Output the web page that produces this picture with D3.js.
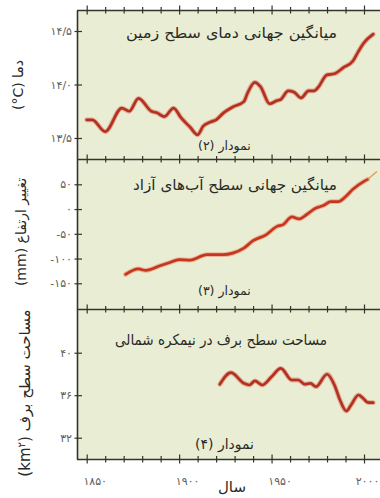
<!DOCTYPE html>
<html>
<head>
<meta charset="utf-8">
<script src="https://cdn.jsdelivr.net/npm/d3@7/dist/d3.min.js"></script>
<style>
  html, body { margin: 0; padding: 0; background: #fff; }
  svg { display: block; font-family: "DejaVu Sans", sans-serif; }
</style>
</head>
<body>
<svg id="chart" width="380" height="498"></svg>
<script>
// Global mean surface temperature (°C)
const tempYears  = [1850, 1853, 1860, 1869, 1873, 1878, 1885, 1888, 1892, 1897, 1901, 1906, 1910, 1913, 1917, 1920, 1924, 1929, 1935, 1937, 1941, 1944, 1949, 1953, 1955, 1959, 1962, 1966, 1970, 1973, 1975, 1980, 1984, 1989, 1994, 1997, 2000, 2005];
const tempValues = [13.67, 13.67, 13.56, 13.78, 13.75, 13.87, 13.75, 13.735, 13.70, 13.78, 13.69, 13.60, 13.53, 13.61, 13.65, 13.67, 13.735, 13.79, 13.84, 13.92, 14.02, 13.98, 13.82, 13.85, 13.86, 13.94, 13.93, 13.875, 13.94, 13.94, 13.97, 14.09, 14.10, 14.16, 14.22, 14.31, 14.39, 14.47];

// Global mean sea level change (mm)
const seaYears  = [1871, 1878, 1882, 1890, 1895, 1900, 1906, 1915, 1924, 1929, 1935, 1940, 1947, 1953, 1956, 1961, 1965, 1969, 1974, 1978, 1982, 1986, 1990, 1994, 2000, 2002];
const seaValues = [-132, -121, -124, -114, -108, -102, -103, -92, -92, -89, -79, -64, -52, -35, -32, -16, -20, -11, 2, 7, 15, 15, 25, 40, 56, 60];
// Recent satellite trend continuing the sea level record
const seaTrendYears  = [2002, 2007];
const seaTrendValues = [60, 76];

// Northern Hemisphere snow cover (million km²)
const snowYears  = [1922, 1928, 1935, 1938, 1941, 1945, 1950, 1955, 1961, 1964.5, 1968, 1971, 1974, 1980, 1984, 1987, 1990.5, 1993, 1997, 1999.5, 2002, 2005];
const snowValues = [37.03, 38.12, 37.12, 36.96, 37.34, 36.96, 37.74, 38.53, 37.43, 37.43, 37.03, 37.12, 36.80, 37.97, 36.96, 35.55, 34.51, 35.08, 36.02, 35.71, 35.33, 35.30];

// Tick values and their Persian labels
const yearTicks       = [1850, 1860, 1870, 1880, 1890, 1900, 1910, 1920, 1930, 1940, 1950, 1960, 1970, 1980, 1990, 2000];
const yearLabelValues = [1850, 1900, 1950, 2000];
const yearLabels      = ["۱۸۵۰", "۱۹۰۰", "۱۹۵۰", "۲۰۰۰"];
const tempTicks       = [13.5, 14.0, 14.5];
const tempTickLabels  = ["۱۳/۵", "۱۴/۰", "۱۴/۵"];
const seaTicks        = [-150, -100, -50, 0, 50];
const seaTickLabels   = ["-۱۵۰", "-۱۰۰", "-۵۰", "۰", "۵۰"];
const snowTicks       = [32, 36, 40];
const snowTickLabels  = ["۳۲", "۳۶", "۴۰"];

// Text
const panelTitles  = ["میانگین جهانی دمای سطح زمین", "میانگین جهانی سطح آب‌های آزاد", "مساحت سطح برف در نیمکره شمالی"];
const panelNumbers = ["(۲) نمودار", "(۳) نمودار", "(۴) نمودار"];
const yTitles      = ["(°C) دما", "(mm) تغییر ارتفاع", "مساحت سطح برف"];
const xTitle       = "سال";

const svg = d3.select("#chart");
const plotLeft = 77, plotRight = 380;
const bands = [[10.5, 159.5], [159.5, 309.5], [309.5, 459.5]];

const x = d3.scaleLinear().domain([1850, 2000]).range([86.7, 364]);
const yTemp = d3.scaleLinear().domain([13.5, 14.5]).range([138, 31]);
const ySea  = d3.scaleLinear().domain([-150, 50]).range([283.3, 184.3]);
const ySnow = d3.scaleLinear().domain([32, 40]).range([437.7, 352.7]);

const bg = "#e9edd3", frame = "#34342c", tickText = "#5e5e5a", titleText = "#2a2a26";

// panel background
svg.append("rect")
  .attr("x", plotLeft).attr("y", bands[0][0])
  .attr("width", plotRight - plotLeft).attr("height", bands[2][1] - bands[0][0])
  .attr("fill", bg);

// series lines
function drawSeries(years, values, y, core, halo) {
  const data = years.map((yr, i) => [yr, values[i]]);
  const line = d3.line().x(d => x(d[0])).y(d => y(d[1])).curve(d3.curveMonotoneX);
  svg.append("path").datum(data).attr("d", line)
    .attr("fill", "none").attr("stroke", halo).attr("stroke-width", 4.8)
    .attr("stroke-linejoin", "round").attr("stroke-linecap", "round").attr("opacity", 0.55);
  svg.append("path").datum(data).attr("d", line)
    .attr("fill", "none").attr("stroke", core).attr("stroke-width", 2.7)
    .attr("stroke-linejoin", "round").attr("stroke-linecap", "round");
}
drawSeries(tempYears, tempValues, yTemp, "#b4301f", "#d9786a");
drawSeries(seaYears, seaValues, ySea, "#c5361f", "#e88a6a");
drawSeries(snowYears, snowValues, ySnow, "#b4301f", "#d9786a");

// thin trend extension on the sea level curve
svg.append("path")
  .datum(seaTrendYears.map((yr, i) => [yr, seaTrendValues[i]]))
  .attr("d", d3.line().x(d => x(d[0])).y(d => ySea(d[1])))
  .attr("fill", "none").attr("stroke", "#e59a4e").attr("stroke-width", 1.3);

// frame: left axis line and horizontal separators
svg.append("line")
  .attr("x1", plotLeft + 0.5).attr("x2", plotLeft + 0.5)
  .attr("y1", bands[0][0]).attr("y2", bands[2][1])
  .attr("stroke", frame).attr("stroke-width", 1.6);
const borders = [bands[0][0], bands[1][0], bands[2][0], bands[2][1]];
borders.forEach(by => {
  svg.append("line")
    .attr("x1", plotLeft).attr("x2", plotRight)
    .attr("y1", by).attr("y2", by)
    .attr("stroke", frame).attr("stroke-width", 1.6);
});

// year ticks crossing every horizontal border
borders.forEach(by => {
  const g = svg.append("g").attr("transform", `translate(0,${by})`)
    .call(d3.axisBottom(x).tickValues(yearTicks).tickSize(0).tickFormat(""));
  g.select(".domain").remove();
  g.selectAll(".tick line")
    .attr("y1", d => yearLabelValues.includes(d) ? -5 : -3.5)
    .attr("y2", d => yearLabelValues.includes(d) ? 4 : 3)
    .attr("stroke", frame).attr("stroke-width", 1.2);
});

// year labels below the last panel
const xg = svg.append("g").attr("transform", `translate(0,${bands[2][1]})`)
  .call(d3.axisBottom(x).tickValues(yearLabelValues).tickSize(0)
    .tickFormat((d, i) => yearLabels[i]));
xg.select(".domain").remove();
xg.selectAll(".tick text")
  .attr("dx", d => d === 2000 ? 3 : 8).attr("y", 18)
  .attr("font-size", 11).attr("fill", tickText)
  .attr("font-family", "DejaVu Sans");

// left axes
function drawLeftAxis(y, ticks, labels) {
  const g = svg.append("g").attr("transform", `translate(${plotLeft + 0.5},0)`)
    .call(d3.axisLeft(y).tickValues(ticks).tickSize(0).tickFormat((d, i) => labels[i]));
  g.select(".domain").remove();
  g.selectAll(".tick line").attr("x1", -3).attr("x2", 4.5)
    .attr("stroke", frame).attr("stroke-width", 1.2);
  g.selectAll(".tick text").attr("x", -5.5)
    .attr("font-size", 11).attr("fill", tickText).attr("font-family", "DejaVu Sans");
}
drawLeftAxis(yTemp, tempTicks, tempTickLabels);
drawLeftAxis(ySea, seaTicks, seaTickLabels);
drawLeftAxis(ySnow, snowTicks, snowTickLabels);

// panel titles
const titleRight = [337, 337, 327];
const titleWidth = [211, 204, 212];
const titleBase = [38, 190, 345];
panelTitles.forEach((t, i) => {
  svg.append("text").attr("x", titleRight[i]).attr("y", titleBase[i])
    .attr("text-anchor", "end").attr("font-size", 15).attr("fill", titleText)
    .attr("textLength", titleWidth[i]).attr("lengthAdjust", "spacingAndGlyphs")
    .text(t);
});

// panel numbers
const numLeft = [198, 198, 195];
const numBase = [150, 295, 449];
panelNumbers.forEach((t, i) => {
  svg.append("text").attr("x", numLeft[i]).attr("y", numBase[i])
    .attr("text-anchor", "start").attr("font-size", i === 2 ? 14 : 12.5)
    .attr("fill", titleText).text(t);
});

// rotated y titles
const yTitleX = [23, 26, 30];
const yTitleY = [85, 232, 393];
yTitles.forEach((t, i) => {
  const tx = svg.append("text")
    .attr("transform", `translate(${yTitleX[i]},${yTitleY[i]}) rotate(-90)`)
    .attr("text-anchor", "middle").attr("font-size", i === 2 ? 15 : 14)
    .attr("fill", titleText);
  if (i === 2) {
    tx.append("tspan").text("(km");
    tx.append("tspan").attr("dy", -5).attr("font-size", 10).text("۲");
    tx.append("tspan").attr("dy", 5).text(") " + t);
  } else {
    tx.text(t);
  }
});

// x title
svg.append("text").attr("x", 232).attr("y", 492)
  .attr("text-anchor", "middle").attr("font-size", 15).attr("fill", titleText)
  .text(xTitle);
</script>
</body>
</html>
